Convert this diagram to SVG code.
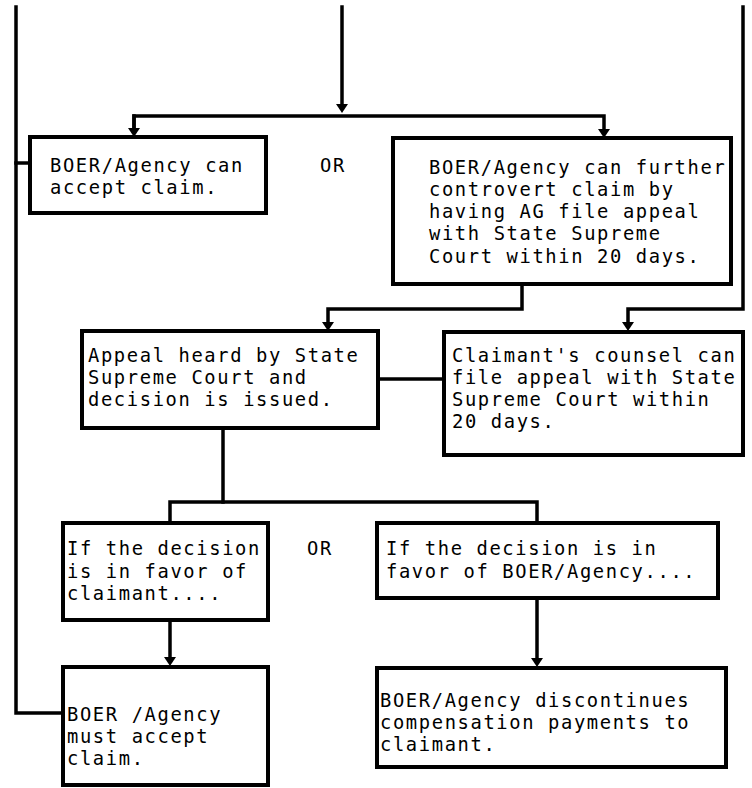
<svg xmlns="http://www.w3.org/2000/svg" width="752" height="788" viewBox="0 0 752 788">
  <style>
    .box { fill: #ffffff; stroke: #000000; stroke-width: 4; }
    .wire { fill: none; stroke: #000000; stroke-width: 3.5; stroke-linejoin: miter; stroke-linecap: square; }
    .txt { font-family: "DejaVu Sans Mono", "Liberation Mono", monospace; font-size: 18.8px; letter-spacing: 1.62px; fill: #000000; }
  </style>
  <defs>
    <marker id="arrow" markerUnits="userSpaceOnUse" markerWidth="9" markerHeight="12" refX="3" refY="6" orient="auto">
      <path d="M0,0 L9,6 L0,12 z" fill="#000000"/>
    </marker>
  </defs>
  <rect width="752" height="788" fill="#ffffff"/>

  <g id="connectors">
    <!-- incoming line splitting into the two options -->
    <path class="wire" d="M342,7 V107" marker-end="url(#arrow)"/>
    <path class="wire" d="M134,131 V116 H604 V132" marker-end="url(#arrow)"/>
    <path class="wire" d="M134,116 V131" marker-end="url(#arrow)"/>
    <!-- long left rail to "accept claim" boxes -->
    <path class="wire" d="M16,7 V713 H63"/>
    <path class="wire" d="M16,163 H30"/>
    <!-- right rail to claimant's appeal -->
    <path class="wire" d="M743,7 V309 H628 V325" marker-end="url(#arrow)"/>
    <!-- AG appeal to court hearing -->
    <path class="wire" d="M522,284 V309 H328 V325" marker-end="url(#arrow)"/>
    <!-- claimant's appeal joins the hearing -->
    <path class="wire" d="M378,379 H444"/>
    <!-- decision splits -->
    <path class="wire" d="M223,428 V502"/>
    <path class="wire" d="M170,523 V502 H537 V523"/>
    <!-- outcomes -->
    <path class="wire" d="M170,620 V660" marker-end="url(#arrow)"/>
    <path class="wire" d="M537,598 V661" marker-end="url(#arrow)"/>
  </g>

  <g id="accept-claim">
    <rect class="box" x="30" y="137" width="236" height="76"/>
    <text class="txt" x="50" y="172">BOER/Agency can</text>
    <text class="txt" x="50" y="194">accept claim.</text>
  </g>

  <g id="or-top">
    <text class="txt" x="320" y="172">OR</text>
  </g>

  <g id="controvert-claim">
    <rect class="box" x="393" y="138" width="338" height="146"/>
    <text class="txt" x="429" y="174">BOER/Agency can further</text>
    <text class="txt" x="429" y="196">controvert claim by</text>
    <text class="txt" x="429" y="218">having AG file appeal</text>
    <text class="txt" x="429" y="240">with State Supreme</text>
    <text class="txt" x="429" y="263">Court within 20 days.</text>
  </g>

  <g id="appeal-heard">
    <rect class="box" x="82" y="331" width="296" height="97"/>
    <text class="txt" x="88" y="362">Appeal heard by State</text>
    <text class="txt" x="88" y="384">Supreme Court and</text>
    <text class="txt" x="88" y="406">decision is issued.</text>
  </g>

  <g id="claimant-appeal">
    <rect class="box" x="444" y="332" width="299" height="123"/>
    <text class="txt" x="452" y="362">Claimant's counsel can</text>
    <text class="txt" x="452" y="384">file appeal with State</text>
    <text class="txt" x="452" y="406">Supreme Court within</text>
    <text class="txt" x="452" y="428">20 days.</text>
  </g>

  <g id="favor-claimant">
    <rect class="box" x="63" y="523" width="205" height="97"/>
    <text class="txt" x="67" y="555">If the decision</text>
    <text class="txt" x="67" y="578">is in favor of</text>
    <text class="txt" x="67" y="600">claimant....</text>
  </g>

  <g id="or-bottom">
    <text class="txt" x="307" y="555">OR</text>
  </g>

  <g id="favor-agency">
    <rect class="box" x="377" y="523" width="341" height="75"/>
    <text class="txt" x="386" y="555">If the decision is in</text>
    <text class="txt" x="386" y="578">favor of BOER/Agency....</text>
  </g>

  <g id="must-accept">
    <rect class="box" x="63" y="667" width="205" height="118"/>
    <text class="txt" x="67" y="721">BOER /Agency</text>
    <text class="txt" x="67" y="743">must accept</text>
    <text class="txt" x="67" y="765">claim.</text>
  </g>

  <g id="discontinue-payments">
    <rect class="box" x="377" y="668" width="349" height="99"/>
    <text class="txt" x="380" y="707">BOER/Agency discontinues</text>
    <text class="txt" x="380" y="729">compensation payments to</text>
    <text class="txt" x="380" y="751">claimant.</text>
  </g>
</svg>
